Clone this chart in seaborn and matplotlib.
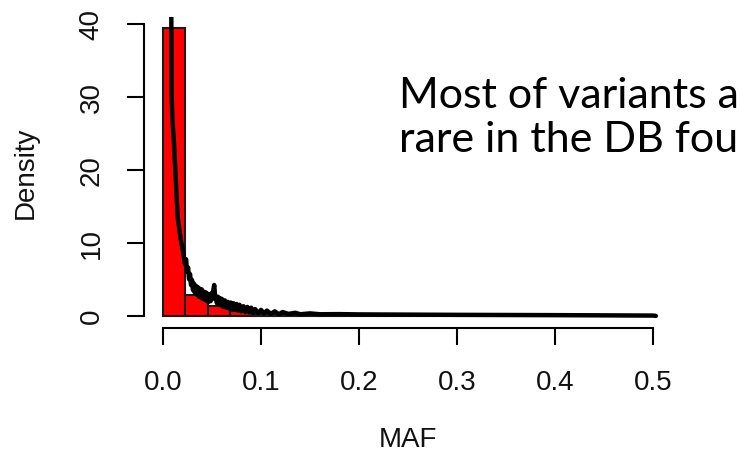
import numpy as np
import pandas as pd
import matplotlib
matplotlib.use("Agg")
import matplotlib.pyplot as plt
import seaborn as sns

# Histogram of minor allele frequency (density scale, 22 equal bins on 0..0.5)
bin_edges = list(np.linspace(0.0, 0.5, 23))
bar_density = [39.45, 2.9, 1.4, 0.7, 0.4, 0.3, 0.22, 0.15, 0.1, 0.08, 0.06,
               0.05, 0.04, 0.03, 0.03, 0.02, 0.02, 0.02, 0.02, 0.01, 0.01, 0.01]

# Kernel density estimate of MAF (small bandwidth, so it is jagged)
kde_x = [0.0080, 0.0084, 0.0086, 0.0088, 0.0095, 0.0110, 0.0125, 0.0140, 0.0150,
         0.0165, 0.0180, 0.0195, 0.0210, 0.0222, 0.0235, 0.0245, 0.0255, 0.0265,
         0.0275, 0.0285, 0.0295, 0.0305, 0.0315, 0.0325, 0.0335, 0.0345, 0.0355,
         0.0365, 0.0375, 0.0385, 0.0395, 0.0405, 0.0415, 0.0425, 0.0435, 0.0445,
         0.0455, 0.0465, 0.0475, 0.0485, 0.0495, 0.0505, 0.0515, 0.0522, 0.0530,
         0.0540, 0.0550, 0.0560, 0.0570, 0.0580, 0.0590, 0.0600, 0.0615, 0.0630,
         0.0645, 0.0660, 0.0675, 0.0690, 0.0705, 0.0720, 0.0735, 0.0750, 0.0765,
         0.0780, 0.0800, 0.0820, 0.0840, 0.0860, 0.0880, 0.0900, 0.0920, 0.0940,
         0.0970, 0.1000, 0.1030, 0.1060, 0.1100, 0.1140, 0.1180, 0.1220, 0.1280,
         0.1350, 0.1400, 0.1500, 0.1600, 0.1800, 0.2000, 0.2500, 0.3000, 0.3500,
         0.4000, 0.4500, 0.5000, 0.5030]
kde_y = [45.0, 41.0, 35.0, 30.0, 27.0, 24.0, 20.0, 16.0, 13.5,
         12.0, 10.5, 9.5, 8.4, 7.2, 7.8, 6.1, 6.7, 5.1,
         5.8, 4.3, 5.0, 3.6, 4.5, 3.2, 4.2, 3.0, 4.0,
         2.7, 3.8, 2.6, 3.7, 2.4, 3.4, 2.3, 3.3, 2.1,
         3.1, 2.0, 3.0, 2.1, 3.2, 2.4, 3.8, 4.3, 2.9,
         2.4, 1.8, 2.7, 1.6, 2.5, 1.5, 2.4, 1.3, 2.2,
         1.2, 2.0, 1.1, 1.9, 1.0, 1.8, 0.9, 1.7, 0.8,
         1.6, 0.7, 1.4, 0.6, 1.3, 0.55, 1.2, 0.5, 1.0,
         0.45, 0.9, 0.4, 0.8, 0.35, 0.7, 0.3, 0.6, 0.35,
         0.5, 0.3, 0.42, 0.3, 0.32, 0.28, 0.25, 0.22, 0.2,
         0.18, 0.15, 0.12, 0.08]

x_ticks = [0.0, 0.1, 0.2, 0.3, 0.4, 0.5]
x_tick_labels = ["0.0", "0.1", "0.2", "0.3", "0.4", "0.5"]
y_ticks = [0, 10, 20, 30, 40]
y_tick_labels = ["0", "10", "20", "30", "40"]

sns.set_style("ticks")
plt.rcParams["font.family"] = ["Liberation Sans", "DejaVu Sans"]

fig = plt.figure(figsize=(7.41, 4.61), dpi=100)
ax = fig.add_axes([143.5 / 741, 133 / 461, 529 / 741, 311.3 / 461])

centers = [(a + b) / 2 for a, b in zip(bin_edges[:-1], bin_edges[1:])]
hist_df = pd.DataFrame({"maf": centers, "density": bar_density})
sns.histplot(data=hist_df, x="maf", weights="density", bins=bin_edges,
             stat="count", color="#ff0000", alpha=1.0, edgecolor="#1a1a1a",
             linewidth=1.5, ax=ax)

kde_df = pd.DataFrame({"maf": kde_x, "density": kde_y})
sns.lineplot(data=kde_df, x="maf", y="density", sort=False, color="black",
             linewidth=3.2, ax=ax)

ax.set_xlim(-0.02, 0.52)
ax.set_ylim(-1.58, 41.0)

for side in ("top", "right"):
    ax.spines[side].set_visible(False)
ax.spines["bottom"].set_bounds(0.0, 0.5)
ax.spines["left"].set_bounds(0, 40)
for side in ("bottom", "left"):
    ax.spines[side].set_linewidth(1.5)
    ax.spines[side].set_color("black")

ax.set_xticks(x_ticks)
ax.set_xticklabels(x_tick_labels)
ax.set_yticks(y_ticks)
ax.set_yticklabels(y_tick_labels, rotation=90, va="center")
ax.tick_params(axis="both", length=12, width=1.5, color="black",
               labelsize=20, labelcolor="#111111")
ax.tick_params(axis="x", pad=18)
ax.tick_params(axis="y", pad=16)

ax.set_xlabel("MAF", fontsize=20, color="#111111")
ax.set_ylabel("Density", fontsize=20, color="#111111")
ax.xaxis.label.set_va("center")
ax.yaxis.label.set_va("center")
ax.xaxis.set_label_coords(0.5, (328 - 440) / 311.3)
ax.yaxis.set_label_coords((26 - 143.5) / 529, 0.5)

# Slide callout, running past the right edge of the figure
fig.text(399 / 741, 1 - 108 / 461, "Most of variants a", fontsize=31,
         family=["Lato", "DejaVu Sans"], va="baseline", ha="left", color="black")
fig.text(399 / 741, 1 - 152 / 461, "rare in the DB fou", fontsize=31,
         family=["Lato", "DejaVu Sans"], va="baseline", ha="left", color="black")

fig.savefig("out.png", dpi=100, facecolor="white")
